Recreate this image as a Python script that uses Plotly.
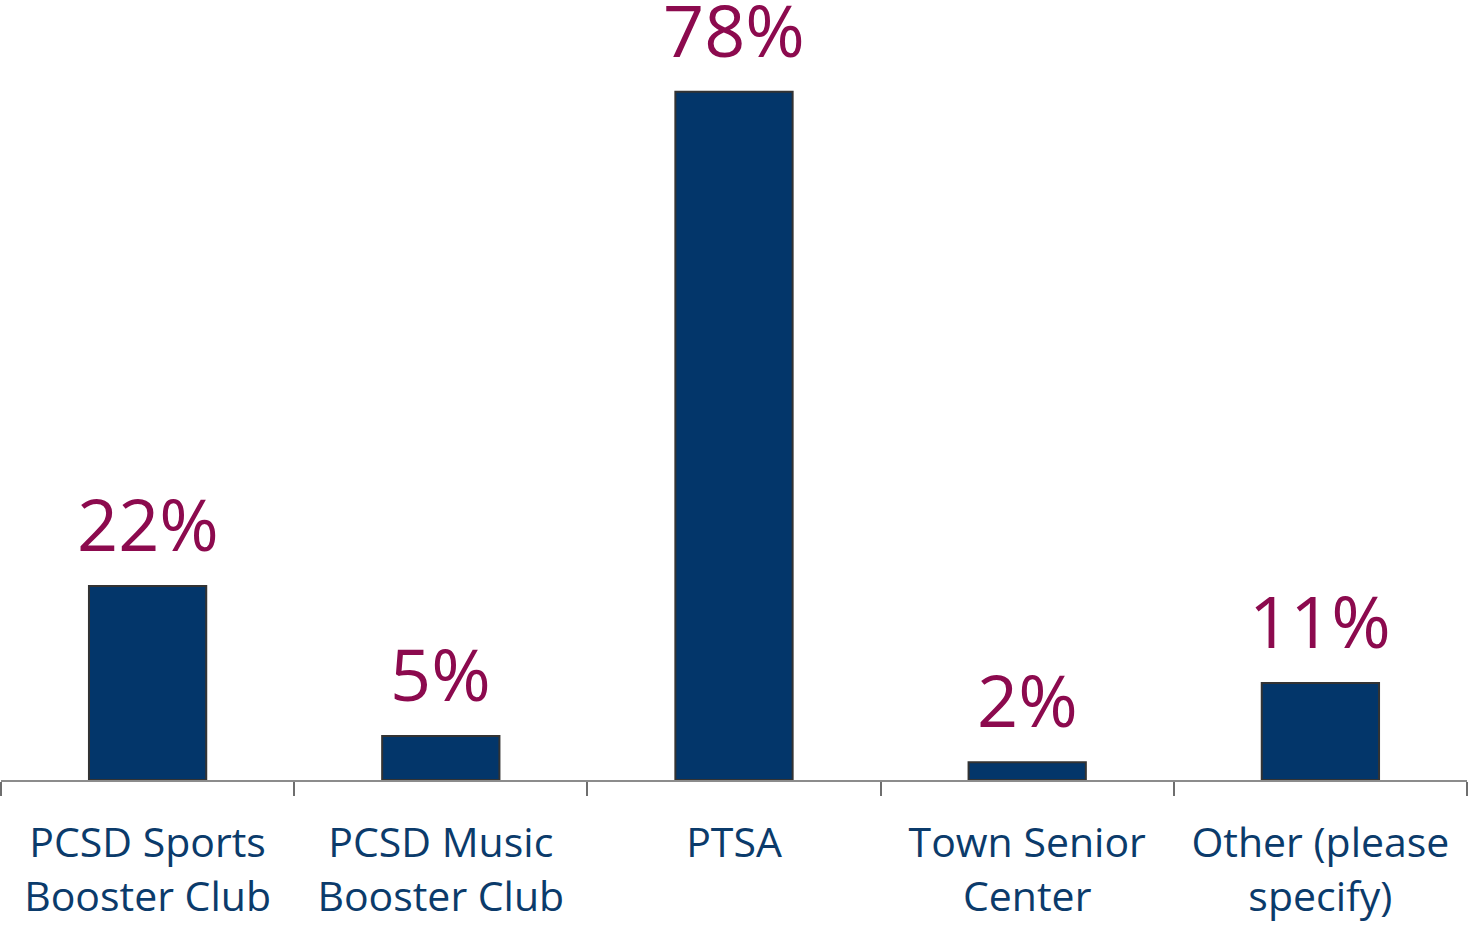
import plotly.graph_objects as go

categories = [
    "PCSD Sports<br>Booster Club",
    "PCSD Music<br>Booster Club",
    "PTSA",
    "Town Senior<br>Center",
    "Other (please<br>specify)",
]
values = [22, 5, 78, 2, 11]
value_labels = ["22%", "5%", "78%", "2%", "11%"]

BAR_FILL = "#03366A"
BAR_EDGE = "#333333"
LABEL_COLOR = "#8C0A4E"
AXIS_TEXT = "#0B3B6B"
FONT = "Open Sans, Noto Sans, sans-serif"

fig = go.Figure(
    go.Bar(
        x=categories,
        y=values,
        marker=dict(color=BAR_FILL, line=dict(color=BAR_EDGE, width=2)),
        cliponaxis=False,
        hoverinfo="skip",
    )
)

for cat, val, lab in zip(categories, values, value_labels):
    fig.add_annotation(
        x=cat, y=val, text=lab, showarrow=False,
        yanchor="bottom", yshift=12,
        font=dict(family=FONT, size=72, color=LABEL_COLOR),
    )

fig.update_layout(
    width=1471, height=928,
    margin=dict(l=1, r=4, t=0, b=148),
    paper_bgcolor="white", plot_bgcolor="white",
    bargap=0.6,
    showlegend=False,
    font=dict(family=FONT),
)
fig.update_xaxes(
    type="category",
    showline=True, linecolor="#8C8C8C", linewidth=2,
    ticks="outside", tickson="boundaries", ticklen=14,
    tickcolor="#6E6E6E", tickwidth=2,
    ticklabelstandoff=26,
    tickfont=dict(family=FONT, size=41, color=AXIS_TEXT),
    showgrid=False,
)
fig.update_yaxes(range=[0, 88.4], visible=False, showgrid=False)

fig.write_html("out.html")
